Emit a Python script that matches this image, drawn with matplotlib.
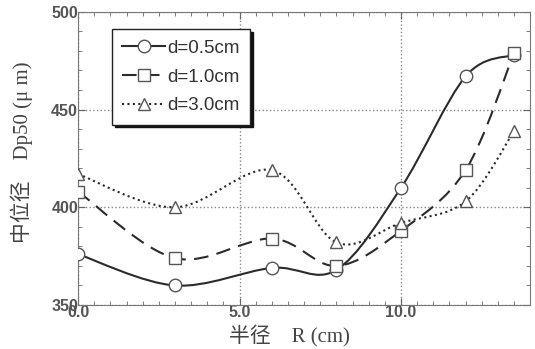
import numpy as np
import matplotlib.pyplot as plt
from matplotlib.path import Path
from matplotlib.patches import PathPatch
from matplotlib.lines import Line2D
from matplotlib.ticker import MultipleLocator, FormatStrFormatter

# data
radius = [0, 3, 6, 8, 10, 12, 13.5]
dp_05 = [376, 360, 369, 368, 410, 467, 478]
dp_10 = [408, 374, 384, 370, 388, 419, 479]
dp_30 = [417, 400, 419, 382, 392, 403, 439]
labels = ["d=0.5cm", "d=1.0cm", "d=3.0cm"]


def smooth_path(x, y):
    # Catmull-Rom spline drawn as cubic Bezier segments
    p = np.column_stack([x, y]).astype(float)
    pts = np.vstack([p[0], p, p[-1]])
    verts = [p[0]]
    codes = [Path.MOVETO]
    for i in range(1, len(pts) - 2):
        c1 = pts[i] + (pts[i + 1] - pts[i - 1]) / 6
        c2 = pts[i + 1] - (pts[i + 2] - pts[i]) / 6
        verts += [c1, c2, pts[i + 1]]
        codes += [Path.CURVE4] * 3
    return Path(verts, codes)


fig = plt.figure(figsize=(5.35, 3.49), dpi=100)
ax = fig.add_axes([0.146, 0.126, 0.845, 0.840])

line_col = "#2b2b2b"
mk_col = "#555555"
styles = [
    (dp_05, "-", "o", (None, None)),
    (dp_10, "--", "s", (7, 4)),
    (dp_30, ":", "^", (1, 1.6)),
]
handles = []
for (vals, ls, mk, dash), lab in zip(styles, labels):
    patch = PathPatch(smooth_path(radius, vals), fill=False, edgecolor=line_col,
                      linewidth=1.5, linestyle=ls, transform=ax.transData, zorder=2)
    if dash[0] is not None:
        patch.set_linestyle((0, dash))
    ax.add_patch(patch)
    ax.plot(radius, vals, linestyle="none", marker=mk, markersize=9,
            markerfacecolor="white", markeredgecolor=mk_col, markeredgewidth=1.0, zorder=3)
    h = Line2D([], [], color=line_col, linewidth=1.5, linestyle=ls, marker=mk,
               markersize=9, markerfacecolor="white", markeredgecolor=mk_col)
    if dash[0] is not None:
        h.set_dashes(dash)
    handles.append(h)

ax.set_xlim(0, 14)
ax.set_ylim(350, 500)
ax.xaxis.set_major_locator(MultipleLocator(5))
ax.xaxis.set_minor_locator(MultipleLocator(0.5))
ax.yaxis.set_major_locator(MultipleLocator(50))
ax.yaxis.set_minor_locator(MultipleLocator(10))
ax.xaxis.set_major_formatter(FormatStrFormatter("%.1f"))
ax.tick_params(which="both", direction="in", top=True, right=True, colors="#666666",
               labelcolor="#555555", labelsize=11.5)
ax.tick_params(which="major", length=5)
ax.tick_params(which="minor", length=3)
for lab in ax.get_xticklabels() + ax.get_yticklabels():
    lab.set_fontfamily("Liberation Sans")
    lab.set_fontweight("bold")
ax.tick_params(axis="x", pad=0)
ax.tick_params(axis="y", pad=0)
for s in ax.spines.values():
    s.set_color("#777777")
ax.grid(True, which="major", linestyle=":", color="#888888", linewidth=1.0)

fam = ["Liberation Serif", "Noto Sans CJK SC"]
ax.set_ylabel("中位径　Dp50 (μ m)", family=fam, fontsize=15, color="#444444")
ax.yaxis.set_label_coords(-0.1, 0.52)
ax.set_xlabel("半径　R (cm)", family=fam, fontsize=15, color="#444444")
ax.xaxis.set_label_coords(0.468, -0.065)

leg = ax.legend(handles, labels, loc="upper left", bbox_to_anchor=(0.075, 0.94),
                borderaxespad=0, prop={"family": "Liberation Sans", "size": 13.5},
                handlelength=2.3, handletextpad=0.1, labelspacing=0.62, borderpad=0.55,
                fancybox=False, framealpha=1, edgecolor="#222222",
                shadow={"color": "#111111", "alpha": 1.0})
leg.get_frame().set_linewidth(1.0)
for t in leg.get_texts():
    t.set_color("#333333")

fig.savefig("out.png", dpi=100)
